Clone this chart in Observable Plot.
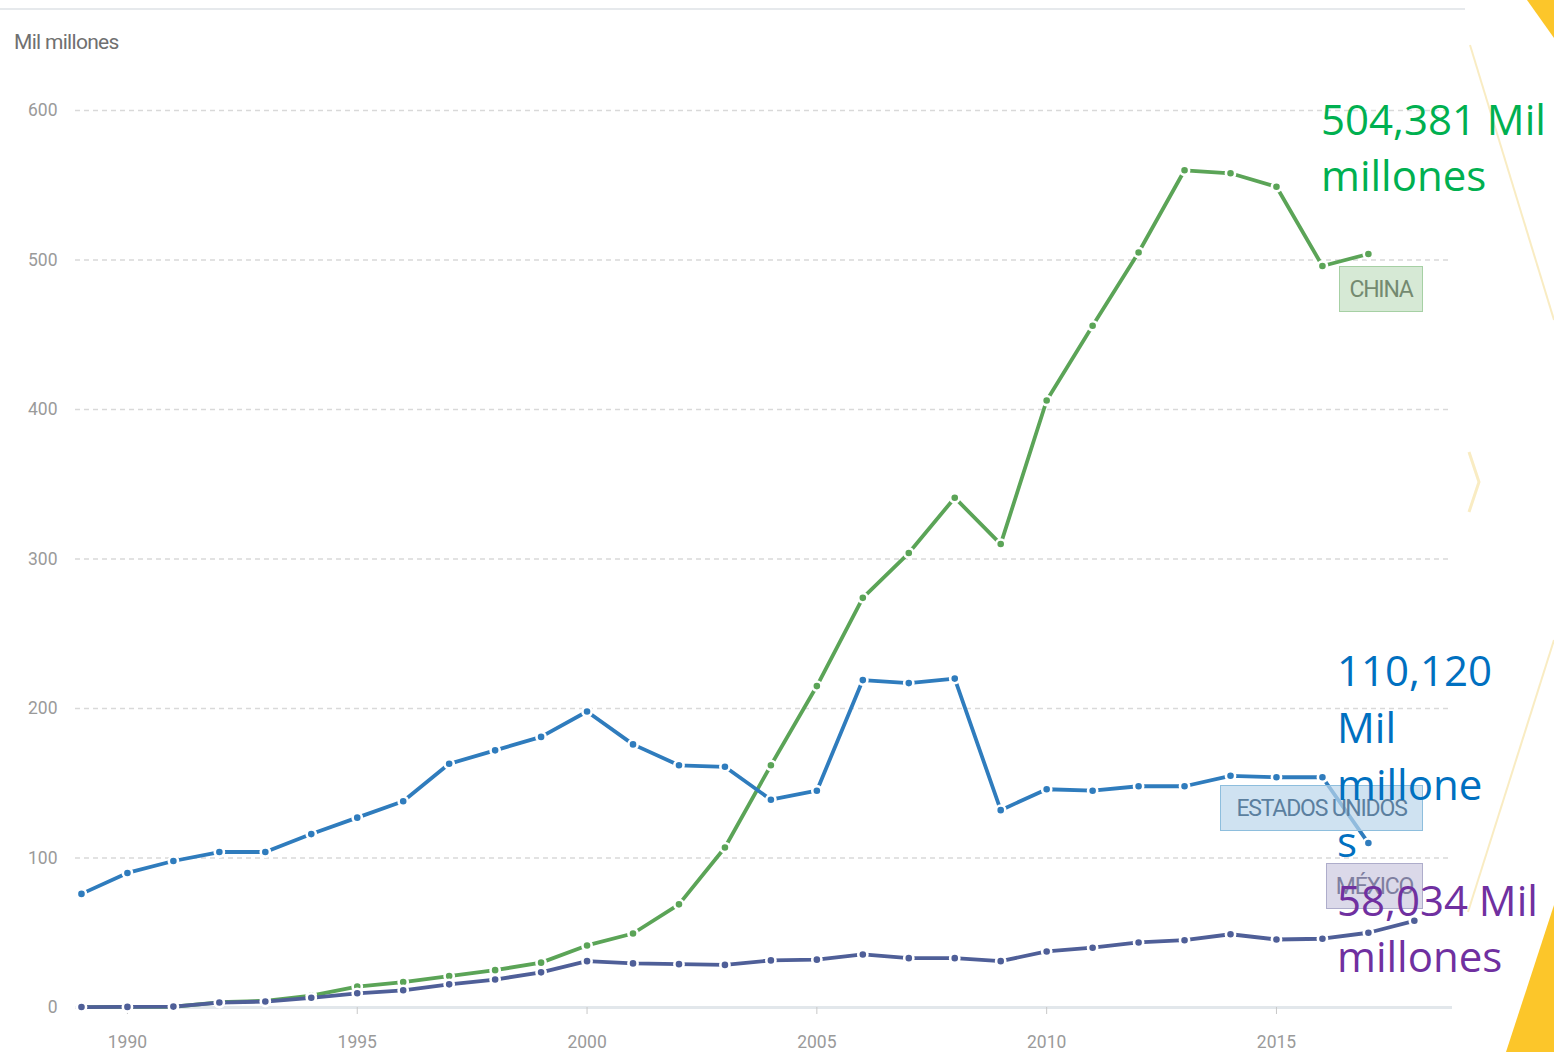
<!DOCTYPE html>
<html><head><meta charset="utf-8">
<script src="https://cdn.jsdelivr.net/npm/d3@7"></script>
<script src="https://cdn.jsdelivr.net/npm/@observablehq/plot@0.6"></script>
<style>
body{margin:0;background:#fff;}
#wrap{position:relative;width:1554px;height:1052px;overflow:hidden;font-family:Roboto,"Noto Sans",sans-serif;}
#deco{position:absolute;left:0;top:0;}
#chart{position:absolute;left:0;top:0;}
.topline{position:absolute;left:0;top:8px;width:1465px;height:2px;background:#e6e9ec;}
.ytitle{position:absolute;left:14px;top:30px;font-size:21px;color:#707070;letter-spacing:-0.7px;}
.tag{position:absolute;box-sizing:border-box;height:46px;font-size:23px;letter-spacing:-1.2px;display:flex;align-items:center;justify-content:center;}
.tag.cn{left:1339px;top:266px;width:84px;background:rgba(200,226,199,0.75);border:1.5px solid #a6d0a4;color:#748a70;}
.tag.us{left:1220px;top:785px;width:203px;background:rgba(186,214,235,0.7);border:1.5px solid #8ebedd;color:#5b7f9f;}
.tag.mx{left:1326px;top:863px;width:97px;background:rgba(210,208,228,0.8);border:1.5px solid #aeadcb;color:#7f7fa0;}
.ann{position:absolute;font-family:"Open Sans","Noto Sans",sans-serif;font-size:42px;line-height:56px;white-space:pre;}
.ann.cn{left:1321px;top:91px;color:#00b050;}
.ann.us{left:1337px;top:641px;color:#0070c0;line-height:57px;}
.ann.mx{left:1337px;top:872px;color:#7030a0;}
</style></head><body>
<div id="wrap">
  <svg id="deco" width="1554" height="1052">
    <polygon points="1527,0 1554,0 1554,38" fill="#fcc62a"/>
    <polygon points="1506,1052 1554,905 1554,1052" fill="#fcc62a"/>
    <line x1="1470" y1="45" x2="1554" y2="320" stroke="#f9ecc3" stroke-width="2"/>
    <polyline points="1469,452 1479,482 1469,512" fill="none" stroke="#f9ecc3" stroke-width="3"/>
    <line x1="1468" y1="912" x2="1554" y2="640" stroke="#f9ecc3" stroke-width="2"/>
  </svg>
  <div class="topline"></div>
  <div id="chart"></div>
  <div class="ytitle">Mil millones</div>
  <div class="tag cn">CHINA</div>
  <div class="tag us">ESTADOS UNIDOS</div>
  <div class="tag mx">MÉXICO</div>
  <div class="ann cn">504,381 Mil
millones</div>
  <div class="ann us">110,120
Mil
millone
s</div>
  <div class="ann mx">58,034 Mil
millones</div>
</div>
<script>
const yearsUS = [1989,1990,1991,1992,1993,1994,1995,1996,1997,1998,1999,2000,2001,2002,2003,2004,2005,2006,2007,2008,2009,2010,2011,2012,2013,2014,2015,2016,2017];
const yearsMX = [1989,1990,1991,1992,1993,1994,1995,1996,1997,1998,1999,2000,2001,2002,2003,2004,2005,2006,2007,2008,2009,2010,2011,2012,2013,2014,2015,2016,2017,2018];
const usValues = [76,90,98,104,104,116,127,138,163,172,181,198,176,162,161,139,145,219,217,220,132,146,145,148,148,155,154,154,110];
const chinaValues = [0.3,0.4,0.5,3.5,4.5,8,14,17,21,25,30,41.5,49.5,69,107,162,215,274,304,341,310,406,456,505,560,558,549,496,504];
const mexicoValues = [0.3,0.4,0.6,3.3,4,6.5,9.5,11.5,15.5,18.7,23.5,31,29.5,29,28.5,31.5,32,35.5,33,33,31,37.5,40,43.5,45,49,45.5,46,50,58];
const xTicks = [1990,1995,2000,2005,2010,2015];
const yTicks = [0,100,200,300,400,500,600];
const colors = {china:"#5ba457", us:"#2f7cbd", mx:"#4f5f98"};

const china = yearsUS.map((y,i)=>({year:y, value:chinaValues[i]}));
const us = yearsUS.map((y,i)=>({year:y, value:usValues[i]}));
const mx = yearsMX.map((y,i)=>({year:y, value:mexicoValues[i]}));

function series(data, color){
  return [
    Plot.line(data,{x:"year",y:"value",stroke:color,strokeWidth:3.8}),
    Plot.dot(data,{x:"year",y:"value",r:4.6,fill:color,stroke:"white",strokeWidth:2.6})
  ];
}

const chart = Plot.plot({
  width:1554, height:1052,
  marginLeft:75, marginRight:102, marginTop:110, marginBottom:45,
  style:{background:"transparent", fontFamily:"Roboto, sans-serif"},
  x:{domain:[1988.87,2018.83]},
  y:{domain:[0,600]},
  marks:[
    Plot.gridY(yTicks.filter(d=>d>0),{stroke:"#d9d9d9",strokeOpacity:1,strokeDasharray:"5,4",strokeWidth:1.3}),
    Plot.ruleY([0],{stroke:"#e2e7eb",strokeWidth:3}),
    Plot.axisY({ticks:yTicks,tickSize:0,tickPadding:18,fontSize:17.5,fill:"#9a9a9a",label:null}),
    Plot.axisX({ticks:xTicks,tickFormat:d=>String(d),tickSize:7,tickPadding:21,fontSize:17.5,fill:"#9a9a9a",stroke:"#c8c8c8",label:null}),
    ...series(china, colors.china),
    ...series(us, colors.us),
    ...series(mx, colors.mx)
  ]
});
document.getElementById("chart").appendChild(chart);
</script>
</body></html>
